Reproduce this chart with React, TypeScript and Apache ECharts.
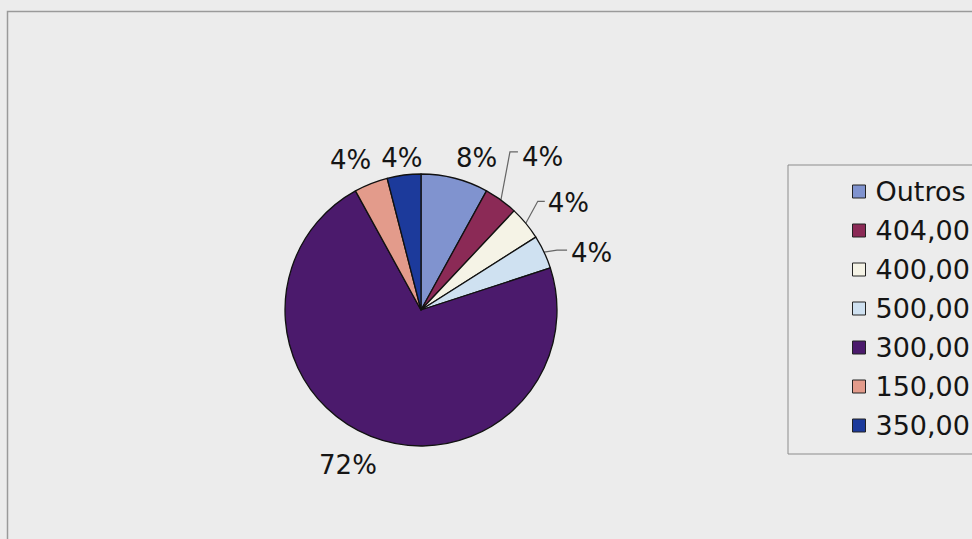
import React, { useEffect, useRef } from 'react';
import * as echarts from 'echarts';

// ---- data ----
const categories = ['Outros', '404,00', '400,00', '500,00', '300,00', '150,00', '350,00'];
const counts = [2, 1, 1, 1, 18, 1, 1];

// ---- styles ----
const sliceColors = ['#8093cf', '#8b2a56', '#f5f3e6', '#cfe1f1', '#4b1a6c', '#e39b8b', '#1c3a9b'];
const leaderShown = [false, true, true, true, false, false, false];
const labelLineLengths = [21, 10, 10, 10, 31, 25, 17];
const labelAnchorFractions = [0.1, 0, 0, 0, 0.7, 0.77, 0.5];
// [bendDx, bendDy, tickLength, textGap, textDrop]
const leaderBends: (number[] | null)[] = [null, [9, -48, 8, 4, 5], [12, -22, 7, 3, 2], [13, -2, 10, 4, 3], null, null, null];

const FONT = 'DejaVu Sans';

export default function App() {
  const ref = useRef<HTMLDivElement>(null);
  useEffect(() => {
    document.body.style.margin = '0';
    if (!ref.current) return;
    const chart = echarts.init(ref.current, undefined, { renderer: 'svg' });
    const data = categories.map((name, i) => ({
      name,
      value: counts[i],
      itemStyle: { color: sliceColors[i] },
      labelLine: { show: leaderShown[i], length: labelLineLengths[i], length2: 0 },
    }));
    chart.setOption({
      animation: false,
      backgroundColor: '#ececec',
      graphic: [
        {
          type: 'rect',
          shape: { x: 7.5, y: 11.5, width: 1100, height: 700 },
          style: { fill: 'none', stroke: '#9a9a9a', lineWidth: 1.5 },
          silent: true,
          z: -10,
        },
      ],
      legend: {
        orient: 'vertical',
        left: 788,
        top: 165,
        padding: [13, 200, 15, 64],
        borderColor: '#8c8c8c',
        borderWidth: 1,
        itemWidth: 13,
        itemHeight: 13,
        itemGap: 12,
        icon: 'rect',
        itemStyle: { borderColor: '#222', borderWidth: 1 },
        textStyle: { fontSize: 27, fontFamily: FONT, color: '#151515', padding: [0, 0, 0, 5], lineHeight: 27 },
        data: categories,
      },
      series: [
        {
          type: 'pie',
          center: [421, 310],
          radius: 136,
          startAngle: 90,
          clockwise: true,
          avoidLabelOverlap: false,
          itemStyle: { borderColor: '#111', borderWidth: 1.3 },
          emphasis: { disabled: true },
          label: {
            show: true,
            position: 'outside',
            formatter: '{d}%',
            fontSize: 26,
            fontFamily: FONT,
            color: '#151515',
            distanceToLabelLine: 0,
          },
          labelLine: { lineStyle: { color: '#666', width: 1.2 } },
          labelLayout: (p: any) => {
            const i = p.dataIndex;
            const r = p.labelRect;
            if (leaderShown[i]) {
              const pts = p.labelLinePoints;
              const b = leaderBends[i];
              if (!pts || !b) return {};
              const p0 = pts[0];
              const p1 = [p0[0] + b[0], p0[1] + b[1]];
              const p2 = [p1[0] + b[2], p1[1]];
              return {
                x: p2[0] + b[3],
                y: p1[1] + b[4],
                align: 'left',
                verticalAlign: 'middle',
                labelLinePoints: [p0, p1, p2],
              };
            }
            const anchorX = p.align === 'right' ? r.x + r.width : r.x;
            const f = labelAnchorFractions[i];
            return {
              x: anchorX + (0.5 - f) * r.width,
              y: r.y + r.height / 2,
              align: 'center',
              verticalAlign: 'middle',
            };
          },
          data,
        },
      ],
    });
    return () => chart.dispose();
  }, []);
  return <div ref={ref} style={{ width: 972, height: 539 }} />;
}
